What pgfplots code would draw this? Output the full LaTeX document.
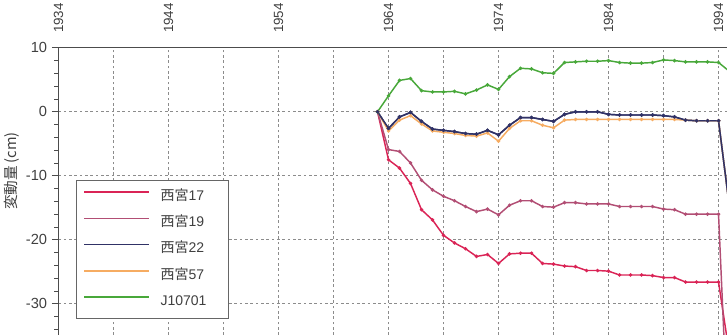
\documentclass[border=0pt]{standalone}
\usepackage{fontspec}
\setmainfont{Liberation Sans}
\newfontfamily\jp{Noto Sans CJK JP}
\usepackage{pgfplots}
\pgfplotsset{compat=1.18}
\usepackage{pgfplotstable}

\definecolor{colA}{RGB}{218,36,86}   % 西宮17
\definecolor{colB}{RGB}{178,78,116}  % 西宮19
\definecolor{colC}{RGB}{48,50,102}   % 西宮22
\definecolor{colD}{RGB}{246,172,98}  % 西宮57
\definecolor{colE}{RGB}{72,168,58}   % J10701
\definecolor{gridgray}{RGB}{140,140,140}

% levelling results, cumulative change in cm
\pgfplotstableread{
year  s17    s19    s22    s57    j
1963  0      0      0      0      0
1964  -7.5   -5.9   -2.6   -3.0   2.5
1965  -8.8   -6.2   -0.8   -1.3   4.9
1966  -11.2  -8.0   -0.1   -0.6   5.2
1967  -15.3  -10.7  -1.5   -1.9   3.3
1968  -16.9  -12.2  -2.7   -3.0   3.1
1969  -19.3  -13.2  -2.9   -3.2   3.1
1970  -20.5  -13.9  -3.1   -3.4   3.2
1971  -21.4  -14.8  -3.4   -3.7   2.8
1972  -22.6  -15.6  -3.5   -3.8   3.4
1973  -22.3  -15.2  -2.9   -3.3   4.2
1974  -23.7  -16.1  -3.6   -4.6   3.5
1975  -22.2  -14.6  -2.1   -2.6   5.5
1976  -22.1  -13.9  -0.9   -1.4   6.8
1977  -22.1  -13.9  -0.9   -1.4   6.7
1978  -23.7  -14.8  -1.2   -2.1   6.1
1979  -23.8  -14.9  -1.5   -2.5   6.0
1980  -24.1  -14.2  -0.4   -1.3   7.7
1981  -24.2  -14.2  0.0    -1.2   7.8
1982  -24.8  -14.4  0.0    -1.2   7.9
1983  -24.8  -14.4  0.0    -1.2   7.9
1984  -24.9  -14.4  -0.4   -1.2   8.0
1985  -25.5  -14.8  -0.5   -1.2   7.7
1986  -25.5  -14.8  -0.5   -1.2   7.6
1987  -25.5  -14.8  -0.5   -1.2   7.6
1988  -25.6  -14.8  -0.5   -1.2   7.7
1989  -25.9  -15.2  -0.6   -1.2   8.1
1990  -25.9  -15.3  -0.8   -1.2   8.0
1991  -26.6  -16.0  -1.3   -1.3   7.8
1992  -26.6  -16.0  -1.4   -1.4   7.8
1993  -26.6  -16.0  -1.4   -1.4   7.8
1994  -26.6  -16.0  -1.4   -1.4   7.7
1995  -38.0  -55.0  -15.0  -15.0  6.3
}\levels

\begin{document}
\begin{tikzpicture}
\begin{axis}[
  scale only axis,
  width=501.4pt, height=215.4pt,
  xmin=1934, xmax=1994.77,
  ymin=-34.875, ymax=10,
  axis x line*=top,
  axis y line*=left,
  axis line style={draw=black!70, line width=1pt},
  xtick={1934,1944,...,1994},
  xticklabels={1934,1944,1954,1964,1974,1984,1994},
  minor xtick={1939,1949,...,1989},
  xtick style={draw=none},
  ytick={-30,-20,...,10},
  minor ytick={-34,-32,...,8},
  tick align=outside,
  major tick length=5pt,
  minor tick length=3pt,
  ytick style={draw=black!70, line width=0.7pt},
  xmajorgrids, xminorgrids, ymajorgrids,
  major grid style={draw=gridgray, line width=0.6pt, dash pattern=on 2pt off 2pt},
  minor grid style={draw=gridgray, line width=0.6pt, dash pattern=on 2pt off 2pt},
  /pgf/number format/assume math mode=true,
  xticklabel style={rotate=90, anchor=west, inner sep=6pt,
    font=\fontsize{10}{12}\selectfont, text=black!75},
  yticklabel style={font=\fontsize{11}{13}\selectfont, text=black!75},
  ylabel={{\jp 変動量}\,{\jp (cm)}},
  ylabel style={at={(axis description cs:-0.0695,0.571)}, anchor=center,
    font=\fontsize{11}{13}\selectfont, text=black!75},
  legend cell align=left,
  legend style={
    at={(axis description cs:0.0262,0.5397)}, anchor=north west,
    draw=black!60, line width=0.6pt, fill=white,
    inner sep=4.5pt, row sep=4.2pt, column sep=5pt,
    nodes={inner sep=3pt, text height=7.5pt, text depth=2pt,
      font=\fontsize{10.5}{12}\selectfont, text=black!75},
    /tikz/column 2/.style={nodes={text width=43.5pt, align=left}},
  },
  legend image code/.code={\path (0pt,0pt);
    \draw[#1, mark=none, line width=1.2pt] (0.75pt,3.5pt) -- (49.5pt,3.5pt);},
  every axis plot/.append style={line width=1.1pt, mark=*, mark size=0.7pt},
]
\coordinate (bl) at (rel axis cs:0,0);
\coordinate (tr) at (rel axis cs:1,1);

\addplot[color=colA, mark options={draw=none, fill=colA!50!black}]
  table[x=year, y=s17] {\levels};
\addlegendentry{{\jp 西宮}17}
\addplot[color=colB, mark options={draw=none, fill=colB!50!black}]
  table[x=year, y=s19] {\levels};
\addlegendentry{{\jp 西宮}19}
\addplot[color=colC, mark options={draw=none, fill=black}]
  table[x=year, y=s22] {\levels};
\addlegendentry{{\jp 西宮}22}
\addplot[color=colD, mark options={draw=none, fill=colD!60!black}]
  table[x=year, y=s57] {\levels};
\addlegendentry{{\jp 西宮}57}
\addplot[color=colE, mark options={draw=none, fill=colE!50!black}]
  table[x=year, y=j] {\levels};
\addlegendentry{J10701}
% 西宮22 again on top, so that it lies over 西宮57 where they meet
\addplot[color=colC, mark options={draw=none, fill=black}, forget plot]
  table[x=year, y=s22] {\levels};
\end{axis}
\pgfresetboundingbox
\path[use as bounding box] ([xshift=-43.875pt]bl) rectangle ([yshift=35.85pt]tr);
\end{tikzpicture}
\end{document}
